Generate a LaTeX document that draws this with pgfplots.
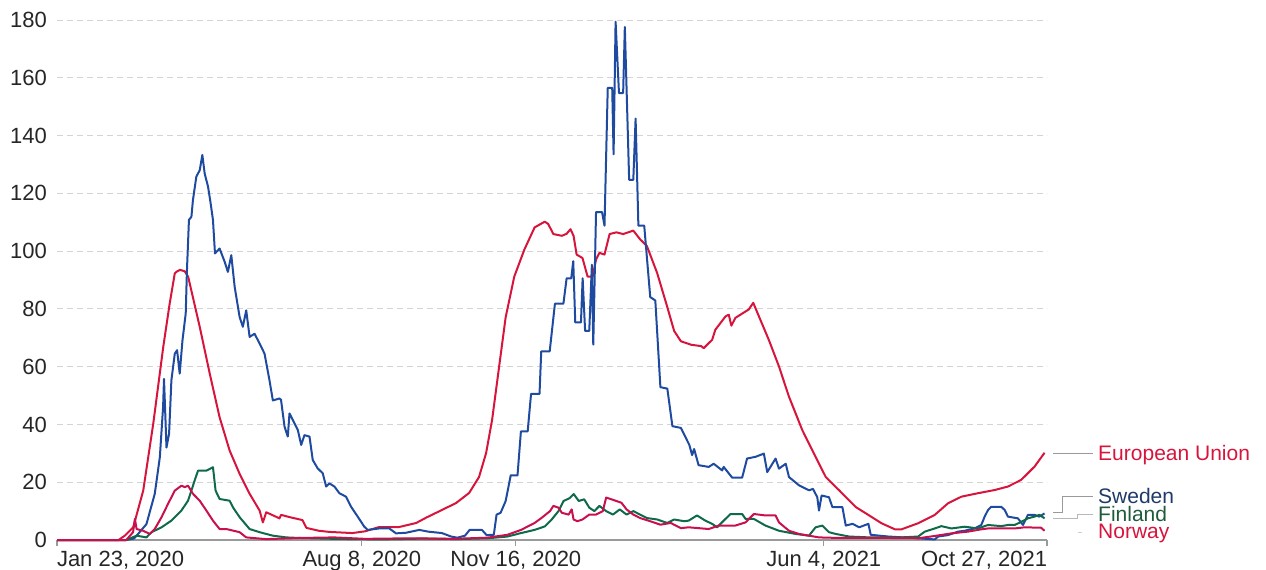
\documentclass[border=0pt]{standalone}
\usepackage{fontspec}
\setmainfont{Liberation Sans}
\usepackage{pgfplots}
\pgfplotsset{compat=1.18}

\definecolor{eu}{HTML}{D7143C}
\definecolor{swe}{HTML}{1E4AA0}
\definecolor{fin}{HTML}{0E6A48}
\definecolor{nor}{HTML}{C8104E}
\definecolor{swelab}{HTML}{1F3A6A}
\definecolor{finlab}{HTML}{1F5A3C}
\definecolor{gridc}{HTML}{D4D4D4}
\definecolor{axc}{HTML}{9A9A9A}

\begin{document}
\begin{tikzpicture}
% page = 1266 x 569 px at 0.5pt per px
\path[use as bounding box] (-28.5pt,-14.5pt) rectangle (604.5pt,270pt);
\begin{axis}[
    at={(0,0)}, anchor=south west,
    scale only axis, width=495pt, height=260pt,
    xmin=0, xmax=643, ymin=0, ymax=180,
    clip=false, no markers,
    axis x line*=bottom, axis y line*=left,
    x axis line style={axc, line width=0.6pt},
    y axis line style={draw=none},
    ytick={0,20,...,180},
    ymajorgrids,
    grid style={gridc, dash pattern=on 3pt off 2pt, line width=0.5pt},
    major y tick style={draw=none},
    % x in days since Jan 23, 2020
    xtick={0,198,298,498,643},
    xticklabels={\makebox[0pt][l]{Jan 23, 2020},{Aug 8, 2020},{Nov 16, 2020},{Jun 4, 2021},\makebox[0pt][r]{Oct 27, 2021}},
    major x tick style={axc, line width=0.6pt},
    tick align=outside, major tick length=3pt,
    ticklabel style={font=\fontsize{11}{13}\selectfont, text=black!85},
    xticklabel style={yshift=1pt},
    yticklabel style={xshift=1.5pt},
    /pgf/number format/assume math mode=true,
    every axis plot/.append style={line width=1pt, line join=round},
]

% European Union
\addplot[eu] coordinates {
(0,0) (40,0) (44,1.5) (49.5,4.4) (56,17.1) (62.5,40.2) (69,66.8) (73.2,81.9) (76.5,92.3) (78,93) (80,93.5) (83,93) (85.2,91.1) (92.7,73.8) (99.2,57.6) (105.6,42.5) (112.1,31) (118.6,22.9) (125.1,16) (131.6,10.2) (133.7,6.1) (135.9,9.6) (140,8.6) (144.5,7.5) (145.5,8.7) (152,7.8) (159.4,6.9) (162,4.2) (170,3.2) (177,2.8) (191.8,2.4) (200,3) (209.3,4.5) (222.3,4.5) (233.3,5.9) (240,7.8) (248.5,10) (259.2,12.8) (267.7,16.3) (274.1,21.8) (278.7,30.1) (282.6,41.6) (287,59.4) (291.4,77.1) (297,91.2) (303.6,100.6) (310.2,108.2) (316.8,110.2) (319,109.4) (322.4,105.9) (327.9,105.3) (331,106) (333.5,107.6) (335.5,105.3) (337.5,98.8) (341.3,97.6) (344.6,91.2) (347.9,91.2) (350.1,97.1) (352.3,99.4) (355.6,98.8) (358.9,105.9) (363.3,106.5) (367.7,105.9) (374.3,107.1) (378.7,104.1) (383.1,101.8) (389.8,92.4) (396.4,80.6) (400.8,72.4) (405.2,68.8) (411.8,67.6) (418.5,67.1) (420,66.4) (425.5,69.3) (427.6,72.8) (434.2,77.4) (436.3,78) (438,74.2) (440.6,76.9) (449.3,79.8) (452.2,82.1) (455.9,77.4) (462.3,69.3) (468.9,60.1) (475.4,49.6) (484.1,38) (492.7,28.8) (499.3,21.8) (508,17.2) (518.8,11.4) (527.5,8.5) (535.5,5.8) (544.2,3.7) (548.5,3.7) (559.3,5.8) (570.1,8.7) (578.7,12.7) (587.4,15) (598.2,16.2) (609,17.3) (617.6,18.5) (626.2,20.8) (634.9,25.4) (641.4,30.2)
};

% Sweden
\addplot[swe] coordinates {
(0,0) (45,0) (50,0.5) (51.7,1.5) (58.1,5.5) (63.5,16) (66.8,28.7) (68.9,46) (69.5,55.8) (71.1,32) (72.8,36.8) (74.3,55.3) (76.5,64.5) (78,65.7) (79.7,57.6) (81.5,69.1) (83.6,78.4) (84.4,93.4) (85.7,110.8) (87.3,111.9) (88.3,117.7) (90.5,125.8) (92.7,128) (94.4,133.3) (95.9,126.9) (98.1,122.3) (99.8,116.5) (101.3,110.8) (102.6,99.2) (105.6,100.9) (108.9,96.3) (111,92.8) (113.2,98.6) (115.4,87.6) (118.6,77.2) (120.7,73.8) (122.9,79.5) (125.1,70.3) (128.3,71.4) (131.6,68) (134.8,64.5) (138,55.3) (140.2,48.3) (144.5,49) (145.5,48.5) (147.8,39.2) (149.9,35.8) (151,43.8) (154.2,40.4) (156.4,38.1) (158.6,32.9) (160.7,36.3) (164,35.8) (166.1,27.7) (169.3,24.8) (172.6,23.1) (174.8,18.5) (176.9,19.6) (180.2,18.5) (183.4,16.2) (187.7,15) (191,11.5) (195.3,8.1) (199.6,4.6) (201.8,3.5) (209.3,4) (215.8,4) (220.2,2.3) (226.6,2.5) (235.3,3.5) (241,2.9) (250,2.4) (256,1.2) (260,0.8) (265,1.5) (268,3.5) (276,3.5) (279,1.7) (283.7,1.8) (285.5,8.8) (288.1,9.4) (291.4,13.5) (294.7,22.4) (299.1,22.4) (301.3,37.6) (305.7,37.6) (307.9,50.6) (313.4,50.6) (314.5,65.3) (320,65.3) (323.4,81.8) (328.9,81.8) (331,90.6) (334,90.6) (335.3,96.5) (336.6,75.3) (340.3,75.3) (341.4,90.6) (343,72.4) (345.7,72.4) (347.4,95.3) (348.3,67.6) (350.1,113.5) (354,113.5) (355.6,108.8) (357.7,156.5) (360.6,156.5) (361.5,133.5) (362.8,179.4) (365,154.7) (367.7,154.7) (368.8,177.6) (371.6,124.7) (374.3,124.7) (375.8,145.9) (377.6,108.8) (381.4,108.8) (385.3,84.1) (388.6,82.9) (391.9,52.9) (396.4,52.4) (399.7,39.4) (405.2,38.8) (410.7,32.9) (412.5,29.4) (413.8,31.5) (416.7,25.9) (423.3,25.3) (426.5,26.4) (432,24.1) (433,25.3) (438.5,21.6) (445,21.6) (448.2,28.2) (453.7,28.8) (459.1,29.9) (461.3,23.5) (466.7,28.2) (468.9,24.7) (473.3,26.4) (475.4,21.8) (482,18.9) (488.5,17.2) (491,17.7) (493.8,14.8) (494.9,10.2) (496.6,15.4) (501.4,14.8) (503.6,11.4) (510.1,11.4) (512.3,5) (516.7,5.6) (521,4.4) (527,5.6) (528.5,1.8) (540,1.2) (559.3,0.6) (570.1,0.2) (572.3,1.2) (578.7,1.7) (585.2,2.9) (589.5,3.2) (596,4) (600.3,5.2) (602.5,8.1) (604.7,10.4) (606.8,11.5) (613.3,11.5) (615.5,10.4) (617.6,8.1) (624.1,7.5) (627.4,5.2) (630.6,8.7) (634.9,8.7) (638,8.1) (641.4,9.2)
};

% Finland
\addplot[fin] coordinates {
(0,0) (45,0) (51.7,1.5) (58.1,0.9) (61.4,2.7) (67.9,4.4) (74.3,6.7) (80.8,10.2) (85.1,13.6) (87.3,17.1) (89.4,20.6) (91.6,24) (97,24) (99.2,24.6) (101.3,25.2) (103,17.1) (105.6,14.2) (112.1,13.6) (114.3,11.3) (118.6,7.9) (125.1,3.8) (131.6,2.7) (140.2,1.5) (148.9,0.9) (157.5,0.7) (180,0.4) (210,0.2) (240,0.5) (260,0.3) (280,0.6) (292.5,1.2) (301.4,2.4) (310.2,3.5) (316.8,4.7) (321.3,7.1) (325.7,10) (329,13.5) (333,14.5) (335.6,15.9) (338.9,13.5) (342.4,14.1) (345.7,11.2) (349,10) (352.3,11.8) (356.7,10) (361.1,8.8) (365.5,10.6) (369.9,8.8) (374.3,10) (378.7,8.8) (383.1,7.6) (389.8,7.1) (396.4,5.9) (400.8,7.1) (407.4,6.5) (410.2,6.7) (415.7,8.5) (421.1,6.7) (425.5,5.6) (428.7,4.4) (431.9,6.1) (437.4,9) (445,9) (447.2,7.3) (452.6,7.3) (460.1,5) (468.9,3.2) (479.7,2.1) (488.4,1.5) (492.7,4.4) (497.1,5) (501.4,2.7) (505.8,2.1) (514.5,1.2) (527.5,0.9) (548.5,0.9) (559.3,1.2) (563.6,2.9) (570.1,4) (574.4,4.8) (580.9,4) (589.5,4.6) (598.2,4) (604.7,5.2) (613.3,4.8) (617.6,5.2) (622,5.2) (626.3,6.3) (630.6,7.5) (634.9,8.1) (638.1,8.7) (641.4,7.5)
};

% Norway
\addplot[nor] coordinates {
(0,0) (45,0) (49.4,2.7) (50.6,7.3) (51.7,3.8) (55.9,3.2) (60.3,2.1) (63.5,3.8) (67.9,7.9) (72.1,12.5) (76.5,17.1) (80.8,18.8) (83,18.3) (85.1,18.8) (88.3,16) (92.7,13.6) (97,10.2) (101.3,6.7) (105.6,3.8) (110,3.8) (118.6,2.7) (122.9,0.9) (135.9,0.3) (157.5,0.7) (180,0.9) (200,0.4) (230,0.6) (257.3,0.4) (279.3,0.8) (292.5,1.8) (301.4,3.5) (310.2,5.9) (314.6,7.6) (320.2,10) (322.4,11.8) (325.7,11.2) (327.9,9.4) (332.3,8.8) (334.3,10.6) (335.5,7.1) (338,6.5) (341.3,7.1) (345.7,8.8) (350.1,8.8) (354.5,10) (356.7,14.7) (360,14.1) (363.3,13.5) (366.6,12.9) (369.9,10.6) (374.3,8.8) (378.7,7.6) (385.3,6.5) (391.9,5.3) (398.6,5.9) (405.2,4.1) (410.2,4.4) (423.3,3.8) (429.8,5) (440.6,5) (447.2,6.1) (452.6,9) (460.1,8.5) (466.7,8.5) (468.9,6.1) (475.4,3.2) (481.9,2.1) (494.9,0.9) (508,0.7) (540.5,0.7) (559.3,0.6) (570.1,1.4) (580.9,2.3) (591.7,2.9) (600.3,3.7) (604.7,4) (613.3,4) (622,4) (628.5,4.4) (634.9,4.3) (639,4.3) (641.4,3.2)
};

% end labels with leader lines
\draw[axc, line width=0.5pt] (axis cs:647,30.1) -- (axis cs:672.7,30.1);
\draw[axc, line width=0.5pt] (axis cs:647,9.4) -- (axis cs:653.3,9.4) -- (axis cs:653.3,14.9) -- (axis cs:672.7,14.9);
\draw[axc!70, line width=0.5pt] (axis cs:647,7.3) -- (axis cs:663,7.3) -- (axis cs:663,8.7) -- (axis cs:672.7,8.7);
\draw[axc!50, line width=0.5pt] (axis cs:663,2.6) -- (axis cs:666,2.6);
\begin{scope}[every node/.style={anchor=west, inner sep=0pt, text height=7pt, text depth=0pt, font=\fontsize{10.5}{12}\selectfont}]
\node[text=eu] at (axis cs:676,30.1) {European Union};
\node[text=swelab] at (axis cs:676,15.2) {Sweden};
\node[text=finlab] at (axis cs:676,9.0) {Finland};
\node[text=eu] at (axis cs:676,2.8) {Norway};
\end{scope}

\end{axis}
\end{tikzpicture}
\end{document}
